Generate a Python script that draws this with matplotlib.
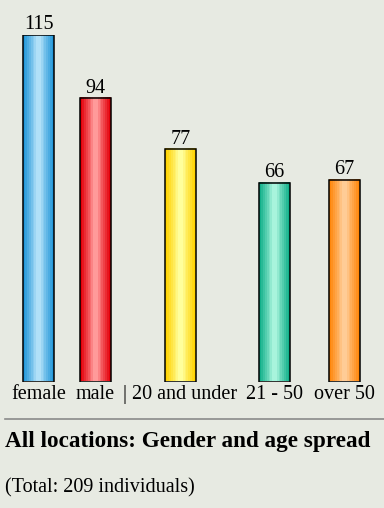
import numpy as np
import matplotlib
matplotlib.use("Agg")
import matplotlib.pyplot as plt
from matplotlib.colors import LinearSegmentedColormap

categories = ["female", "male", "| 20 and under", "21 - 50", "over 50"]
values = [115, 94, 77, 66, 67]
title = "All locations: Gender and age spread"
subtitle = "(Total: 209 individuals)"

edge_colors = ["#2498da", "#e4000a", "#ffd200", "#12b08a", "#ff860a"]
center_colors = ["#b0e0f8", "#ff9a9a", "#ffff9c", "#a8f4dc", "#ffcc96"]

W, H = 384, 508
bg = "#e7eae2"
fig = plt.figure(figsize=(W / 100, H / 100), dpi=100, facecolor=bg)

# layout in pixels
centers = [38.6, 95.5, 180.5, 274.5, 344.5]
bar_w = 31
base_px, top_px = 381.5, 35.0
ax = fig.add_axes([0, (H - base_px) / H, 1, (base_px - top_px) / H])
ax.set_xlim(0, W)
ax.set_ylim(0, max(values))
ax.set_facecolor("none")
ax.axis("off")

serif = ["Liberation Serif", "DejaVu Serif"]
grad = np.concatenate([np.linspace(0, 1, 50), np.linspace(1, 0, 50)])[None, :]
for c, v, e, m, lab in zip(centers, values, edge_colors, center_colors, categories):
    cmap = LinearSegmentedColormap.from_list("g", [e, m], N=8)
    x0 = c - bar_w / 2
    ax.bar([c], [v], width=bar_w, facecolor="none", edgecolor="black",
           linewidth=1.1, zorder=3)
    ax.imshow(grad, cmap=cmap, extent=(x0, x0 + bar_w, 0, v), aspect="auto",
              interpolation="nearest", zorder=2)
    ax.text(c, v + 0.2, str(v), ha="center", va="bottom", fontsize=14.5,
            family=serif, color="black")
    ax.text(c, -1.3, lab, ha="center", va="top", fontsize=14.5, family=serif,
            color="black", clip_on=False)

# separator line
fig.add_artist(plt.Line2D([5 / W, 1], [1 - 419 / H, 1 - 419 / H], color="#8a8a8a",
                          linewidth=1.2))
fig.text(5 / W, 1 - 441 / H, title, ha="left", va="center", fontsize=16.7,
         fontweight="bold", family=serif, color="black")
fig.text(5 / W, 1 - 488 / H, subtitle, ha="left", va="center", fontsize=14.5,
         family=serif, color="black")

fig.savefig("out.png", dpi=100, facecolor=bg)
